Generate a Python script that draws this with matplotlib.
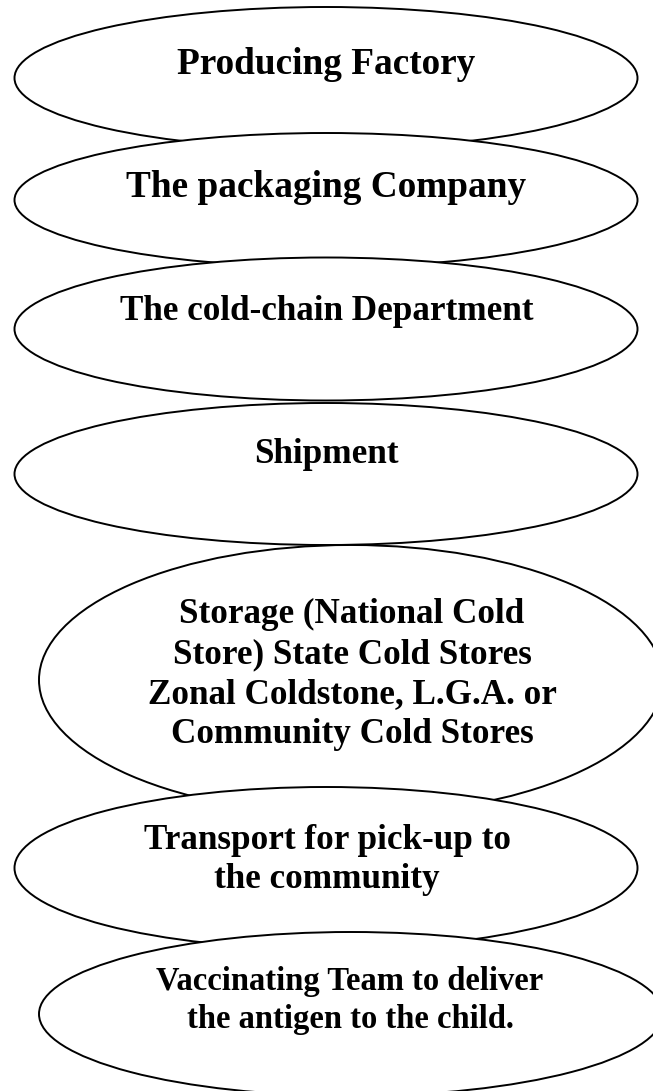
import matplotlib
matplotlib.use("Agg")
import matplotlib.pyplot as plt
from matplotlib.patches import Ellipse

# Diagram content (stages of the vaccine cold chain)
labels = [
    "Producing Factory",
    "The packaging Company",
    "The cold-chain Department",
    "Shipment",
    "Storage (National Cold\nStore) State Cold Stores\nZonal Coldstone, L.G.A. or\nCommunity Cold Stores",
    "Transport for pick-up to\nthe community",
    "Vaccinating Team to deliver\nthe antigen to the child.",
]

# Layout in pixel coordinates (x centre, y centre, width, height)
ell_cx = [326, 326, 326, 326, 351, 326, 351]
ell_cy = [78, 200, 329, 474, 680, 868, 1014]
ell_w = [623, 623, 623, 623, 624, 623, 624]
ell_h = [142, 134, 143, 142, 270, 162, 164]
# text: x centre, first baseline, line spacing, font size
txt_x = [326, 326, 327, 326, 352, 327, 350]
txt_y0 = [74, 197, 320, 463, 623, 849, 990]
txt_gap = [0, 0, 0, 0, 40, 39, 38]
txt_size = [26.8, 26.8, 25.3, 25.3, 25.3, 25.3, 23.5]

W, H = 653, 1091
fig = plt.figure(figsize=(W / 100, H / 100), dpi=100)
ax = fig.add_axes([0, 0, 1, 1])
ax.set_xlim(0, W)
ax.set_ylim(H, 0)
ax.axis("off")

for i, lab in enumerate(labels):
    e = Ellipse((ell_cx[i], ell_cy[i]), ell_w[i], ell_h[i],
                facecolor="white", edgecolor="black", lw=1.4, zorder=2 + i)
    ax.add_patch(e)
    for j, line in enumerate(lab.split("\n")):
        ax.text(txt_x[i], txt_y0[i] + j * txt_gap[i], line,
                ha="center", va="baseline", fontsize=txt_size[i],
                family="Liberation Serif", fontweight="bold",
                color="black", zorder=2.5 + i)

fig.savefig("out.png", dpi=100, facecolor="white")
